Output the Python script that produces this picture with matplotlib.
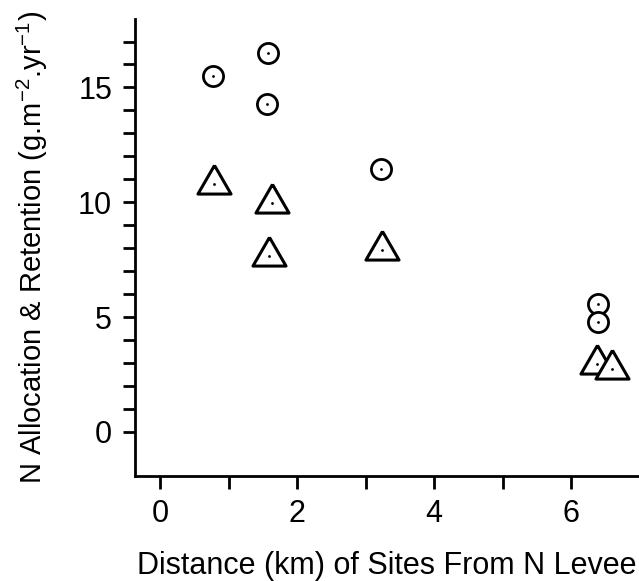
import matplotlib
matplotlib.use('Agg')
import matplotlib.pyplot as plt
from matplotlib.ticker import FixedLocator

plt.rcParams['font.family'] = ['Liberation Sans', 'DejaVu Sans']
plt.rcParams['mathtext.fontset'] = 'custom'
plt.rcParams['mathtext.rm'] = 'Liberation Sans'
plt.rcParams['mathtext.it'] = 'Liberation Sans:italic'

# N allocation (circles) and N retention (triangles) at each site
alloc_x = [0.77, 1.58, 1.56, 3.23, 6.39, 6.39]
alloc_y = [15.5, 16.5, 14.3, 11.45, 5.58, 4.8]
ret_x = [0.79, 1.63, 1.59, 3.24, 6.38, 6.6]
ret_y = [10.8, 9.95, 7.65, 7.9, 2.95, 2.75]

x_major = [0, 2, 4, 6]
x_minor = [1, 3, 5]
y_major = [0, 5, 10, 15]
y_minor = [1, 2, 3, 4, 6, 7, 8, 9, 11, 12, 13, 14, 16, 17]

# equilateral triangle with its centroid at the origin
tri = [(0, 0.577), (-0.5, -0.289), (0.5, -0.289), (0, 0.577)]

fig = plt.figure(figsize=(6.39, 5.81), dpi=100)
ax = fig.add_axes([0.2113, 0.1807, 0.7887, 0.7866])

ax.plot(alloc_x, alloc_y, linestyle='none', marker='o', ms=14.5,
        mfc='white', mec='black', mew=2.0)
ax.plot(ret_x, ret_y, linestyle='none', marker=tri, ms=27.5,
        mfc='white', mec='black', mew=2.2)
# small centre dots inside each symbol
ax.plot(alloc_x + ret_x, alloc_y + ret_y, linestyle='none', marker='o',
        ms=2.0, color='black', mew=0)

ax.set_xlim(-0.365, 6.99)
ax.set_ylim(-1.92, 17.98)

ax.xaxis.set_major_locator(FixedLocator(x_major))
ax.xaxis.set_minor_locator(FixedLocator(x_minor))
ax.yaxis.set_major_locator(FixedLocator(y_major))
ax.yaxis.set_minor_locator(FixedLocator(y_minor))

for side in ['top', 'right']:
    ax.spines[side].set_visible(False)
for side in ['left', 'bottom']:
    ax.spines[side].set_linewidth(2.0)

ax.tick_params(axis='x', which='both', direction='out', length=9.5, width=2.0,
               pad=7, labelsize=22)
ax.tick_params(axis='y', which='both', direction='out', length=8.5, width=2.0,
               pad=8, labelsize=22)

ax.set_xlabel('Distance (km) of Sites From N Levee', fontsize=22, labelpad=16)
ax.set_ylabel('N Allocation & Retention (g.m$^{-2}$.yr$^{-1}$)', fontsize=21,
              labelpad=20)

fig.savefig('out.png', dpi=100)
